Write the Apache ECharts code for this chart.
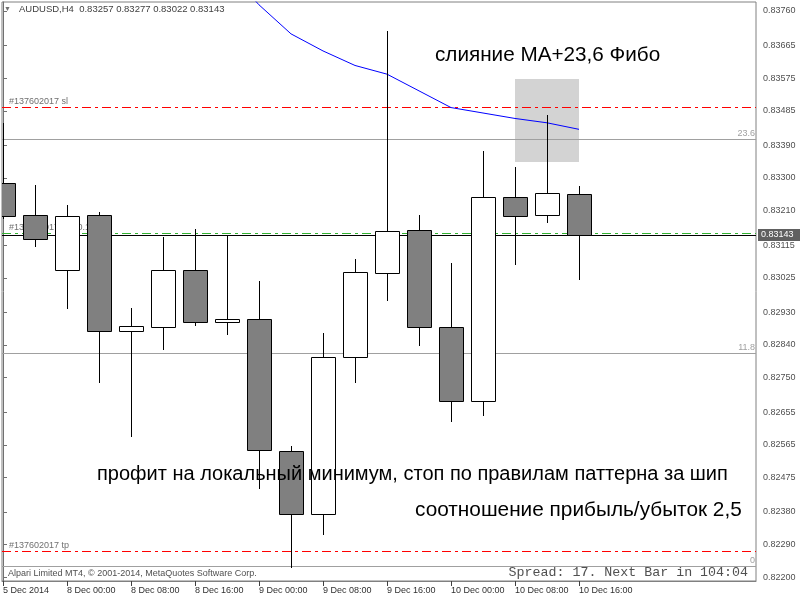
<!DOCTYPE html>
<html>
<head>
<meta charset="utf-8">
<script src="https://cdn.jsdelivr.net/npm/echarts@6/dist/echarts.min.js"></script>
<style>
  html, body { margin: 0; padding: 0; background: #fff; }
  #main { width: 800px; height: 600px; }
</style>
</head>
<body>
<div id="main"></div>
<script>
// AUDUSD H4, bar 0 = 5 Dec 2014 20:00
const barIdx = [0, 1, 2, 3, 4, 5, 6, 7, 8, 9, 10, 11, 12, 13, 14, 15, 16, 17, 18];
const opens  = [0.83286, 0.83197, 0.83046, 0.83197, 0.82878, 0.82889, 0.83046, 0.82902, 0.82911, 0.82548,
                0.82373, 0.82806, 0.83037, 0.83156, 0.82889, 0.82685, 0.83247, 0.83197, 0.83257];
const highs  = [0.83451, 0.83281, 0.83226, 0.83205, 0.82942, 0.83137, 0.83159, 0.83142, 0.83016, 0.82562,
                0.82872, 0.83076, 0.83705, 0.83198, 0.83066, 0.83374, 0.83330, 0.83473, 0.83277];
const lows   = [0.83190, 0.83113, 0.82941, 0.82739, 0.82590, 0.82830, 0.82896, 0.82871, 0.82447, 0.82228,
                0.82320, 0.82739, 0.82965, 0.82841, 0.82631, 0.82648, 0.83064, 0.83180, 0.83022];
const closes = [0.83195, 0.83131, 0.83194, 0.82878, 0.82891, 0.83046, 0.82902, 0.82911, 0.82551, 0.82373,
                0.82806, 0.83040, 0.83153, 0.82889, 0.82685, 0.83247, 0.83194, 0.83258, 0.83143];

// moving average (blue)
const maIdx = [7, 8, 9, 10, 11, 12, 13, 14, 15, 16, 17, 18];
const maValues = [0.83873, 0.83777, 0.83697, 0.83650, 0.83610, 0.83586, 0.83540, 0.83494, 0.83479, 0.83464, 0.83452, 0.83434];

// order lines
const orderNames  = ['#137602017 sl', '#137602017 sell 0.10', '#137602017 tp'];
const orderPrices = [0.83496, 0.83148, 0.82272];
const orderColors = ['#ff0000', '#32b432', '#ff0000'];
const bidPrice = 0.83143;

// fibo levels
const fiboNames  = ['0', '11.8', '23.6'];
const fiboPrices = [0.82231, 0.82818, 0.83407];

// highlighted zone
const zoneBars   = [16, 18];
const zonePrices = [0.83345, 0.83573];

// axes
const timeTicks  = [0, 2, 4, 6, 8, 10, 12, 14, 16, 18];
const timeLabels = ['5 Dec 2014', '8 Dec 00:00', '8 Dec 08:00', '8 Dec 16:00', '9 Dec 00:00',
                    '9 Dec 08:00', '9 Dec 16:00', '10 Dec 00:00', '10 Dec 08:00', '10 Dec 16:00'];
const priceTicks = [0.83760, 0.83665, 0.83575, 0.83485, 0.83390, 0.83300, 0.83210, 0.83115, 0.83025,
                    0.82930, 0.82840, 0.82750, 0.82655, 0.82565, 0.82475, 0.82380, 0.82290, 0.82200];

const FONT = 'Liberation Sans, Arial, sans-serif';
const DASHDOT = [9, 4, 3, 4];

const candleData = barIdx.map((k, i) => [k, opens[i], closes[i], lows[i], highs[i]]);
const maData = maIdx.map((k, i) => [k, maValues[i]]);
// [price, kind (0 order / 1 fibo), index]
const levelData = orderPrices.map((p, i) => [p, 0, i]).concat(fiboPrices.map((p, i) => [p, 1, i]));

function txt(text, x, y, align, vAlign, color, font) {
  return {
    type: 'text',
    style: {
      text: text, x: x, y: y, fill: color, font: font,
      align: align, verticalAlign: vAlign,
      textAlign: align, textVerticalAlign: vAlign
    }
  };
}

// horizontal level drawn as 1px filled segments (crisp dash-dot)
function renderLevel(params, api) {
  const cs = params.coordSys;
  const y = Math.round(api.coord([0, api.value(0)])[1]);
  const kind = api.value(1);
  const n = api.value(2);
  const children = [];
  if (kind === 1) {
    children.push({ type: 'rect', shape: { x: cs.x, y: y, width: cs.width, height: 1 }, style: { fill: '#a0a0a0' } });
    children.push(txt(fiboNames[n], cs.x + cs.width - 1, y - 1, 'right', 'bottom', '#a0a0a0', '9px ' + FONT));
  } else {
    const color = orderColors[n];
    let x = cs.x;
    let j = 0;
    while (x < cs.x + cs.width) {
      const len = DASHDOT[j % 4];
      if (j % 2 === 0) {
        children.push({ type: 'rect', shape: { x: x, y: y, width: Math.min(len, cs.x + cs.width - x), height: 1 },
          style: { fill: color } });
      }
      x += len;
      j++;
    }
    children.push(txt(orderNames[n], cs.x + 7, y - 1, 'left', 'bottom', '#707070', '9px ' + FONT));
  }
  return { type: 'group', children: children };
}

function renderZone(params, api) {
  const a = api.coord([api.value(0), api.value(3)]);
  const b = api.coord([api.value(1), api.value(2)]);
  return {
    type: 'rect',
    shape: { x: Math.round(a[0]), y: Math.round(a[1]), width: Math.round(b[0] - a[0]), height: Math.round(b[1] - a[1]) },
    style: { fill: '#d3d3d3' }
  };
}

function renderCandle(params, api) {
  const k = api.value(0);
  const o = api.coord([k, api.value(1)]);
  const c = api.coord([k, api.value(2)]);
  const l = api.coord([k, api.value(3)]);
  const h = api.coord([k, api.value(4)]);
  const half = Math.round(api.size([0.75, 0])[0] / 2);
  const x = Math.round(o[0]) + 0.5;
  const top = Math.round(Math.min(o[1], c[1])) + 0.5;
  const bot = Math.round(Math.max(o[1], c[1])) + 0.5;
  const bull = api.value(2) >= api.value(1);
  return {
    type: 'group',
    children: [
      { type: 'line', shape: { x1: x, y1: Math.round(h[1]), x2: x, y2: Math.round(l[1]) + 1 },
        style: { stroke: '#000', lineWidth: 1 } },
      { type: 'rect', shape: { x: x - half, y: top, width: half * 2, height: Math.max(bot - top, 1) },
        style: { fill: bull ? '#ffffff' : '#808080', stroke: '#000', lineWidth: 1 } }
    ]
  };
}

function renderBidTag(params, api) {
  const cs = params.coordSys;
  const y = Math.round(api.coord([0, api.value(0)])[1]);
  const x0 = cs.x + cs.width;
  return {
    type: 'group',
    children: [
      { type: 'rect', shape: { x: cs.x, y: y, width: cs.width, height: 1 }, style: { fill: '#000' } },
      { type: 'rect', shape: { x: x0 + 2, y: y - 6, width: 44, height: 12 }, style: { fill: '#606060' } },
      txt(api.value(0).toFixed(5), x0 + 5, y, 'left', 'middle', '#ffffff', '9px ' + FONT)
    ]
  };
}

const chart = echarts.init(document.getElementById('main'), null, { renderer: 'canvas' });
chart.setOption({
  animation: false,
  backgroundColor: '#ffffff',
  grid: { left: 2, right: 44, top: 2, bottom: 19, show: true, borderColor: '#808080', borderWidth: 1 },
  xAxis: {
    type: 'value',
    min: -0.03125,
    max: 23.53125,
    splitLine: { show: false },
    axisLine: { show: true, lineStyle: { color: '#808080' } },
    axisTick: { show: true, length: 5, customValues: timeTicks, lineStyle: { color: '#404040' } },
    axisLabel: {
      customValues: timeTicks,
      formatter: v => timeLabels[timeTicks.indexOf(Math.round(v))] || '',
      align: 'left',
      margin: 5,
      color: '#303030',
      fontSize: 9,
      fontFamily: FONT
    }
  },
  yAxis: {
    type: 'value',
    position: 'right',
    min: 0.821898,
    max: 0.837848,
    scale: true,
    splitLine: { show: false },
    axisLine: { show: true, lineStyle: { color: '#707070' } },
    axisTick: { show: true, length: 4, customValues: priceTicks, lineStyle: { color: '#707070' } },
    axisLabel: {
      customValues: priceTicks,
      formatter: v => v.toFixed(5),
      margin: 7,
      color: '#505050',
      fontSize: 9,
      fontFamily: FONT
    }
  },
  series: [
    { type: 'custom', name: 'zone', z: 1, clip: true, renderItem: renderZone,
      data: [[zoneBars[0], zoneBars[1], zonePrices[0], zonePrices[1]]] },
    { type: 'custom', name: 'levels', z: 2, renderItem: renderLevel, data: levelData },
    { type: 'line', name: 'MA', z: 3, clip: true, showSymbol: false, data: maData,
      lineStyle: { color: '#0000ff', width: 1 } },
    { type: 'custom', name: 'bid', z: 3, renderItem: renderBidTag, data: [[bidPrice]] },
    { type: 'custom', name: 'AUDUSD', z: 4, clip: true, renderItem: renderCandle, data: candleData }
  ],
  graphic: [
    { type: 'text', z: 100, left: 4, top: 6, style: { text: '\u25BC', fill: '#707070', font: '7px ' + FONT } },
    { type: 'text', z: 100, left: 19, top: 4,
      style: { text: 'AUDUSD,H4  0.83257 0.83277 0.83022 0.83143', fill: '#404040', font: '9.5px ' + FONT } },
    { type: 'text', z: 100, left: 435, top: 45,
      style: { text: 'слияние MA+23,6 Фибо', fill: '#000', font: '20.7px ' + FONT } },
    { type: 'text', z: 100, left: 97, top: 464,
      style: { text: 'профит на локальный минимум, стоп по правилам паттерна за шип', fill: '#000', font: '20px ' + FONT } },
    { type: 'text', z: 100, left: 415, top: 500,
      style: { text: 'соотношение прибыль/убыток 2,5', fill: '#000', font: '20.8px ' + FONT } },
    { type: 'text', z: 100, left: 8, top: 569,
      style: { text: 'Alpari Limited MT4, © 2001-2014, MetaQuotes Software Corp.', fill: '#505050', font: '9px ' + FONT } },
    { type: 'text', z: 100, right: 52, top: 566,
      style: { text: 'Spread: 17. Next Bar in 104:04', fill: '#505050', font: '13.3px Liberation Mono, Courier New, monospace' } }
  ]
});
</script>
</body>
</html>
